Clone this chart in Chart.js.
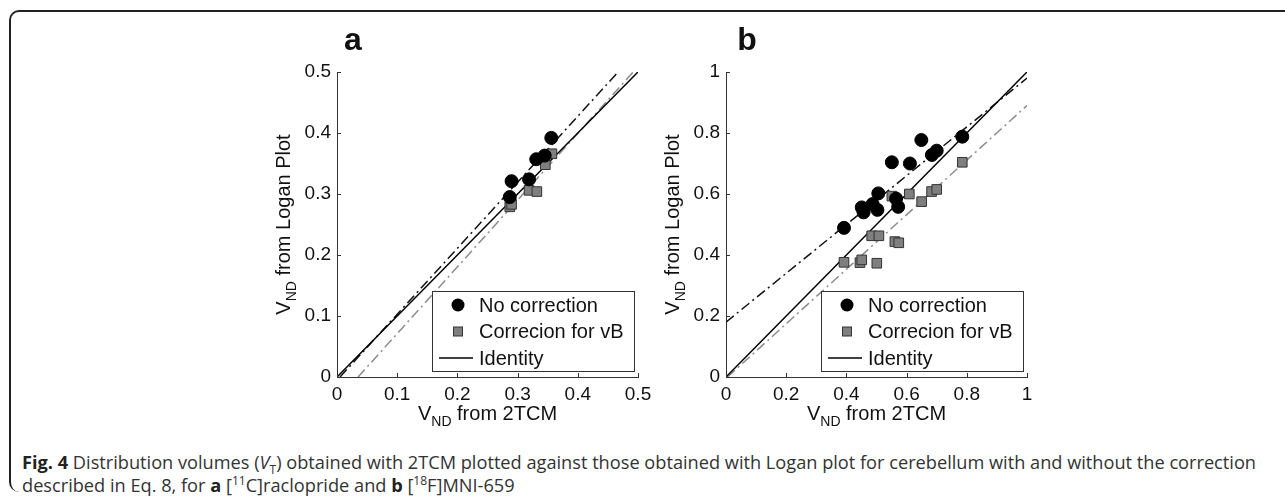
<!DOCTYPE html>
<html>
<head>
<meta charset="utf-8">
<script src="https://cdn.jsdelivr.net/npm/chart.js@4.4.1/dist/chart.umd.min.js"></script>
<style>
  html, body { margin: 0; padding: 0; background: #fff; }
  body { width: 1285px; height: 500px; position: relative; overflow: hidden; }
  #frame { position: absolute; left: 9px; top: 10px; width: 1300px; height: 480px;
           border-left: 2px solid #222; border-top: 2px solid #222; border-radius: 10px 0 0 10px; }
  .panel { position: absolute; top: 20px; }
  #panelA { left: 240px; }
  #panelB { left: 629px; }
  #caption { position: absolute; left: 22px; top: 451px; font-family: "Open Sans", sans-serif;
             font-size: 18.2px; line-height: 23px; color: #333; white-space: nowrap; }
  #caption b { color: #222; }
  #caption sub, #caption sup { font-size: 12px; line-height: 0; }
</style>
</head>
<body>
<div id="frame"></div>
<canvas id="panelA" class="panel" width="420" height="420"></canvas>
<canvas id="panelB" class="panel" width="420" height="420"></canvas>
<div id="caption"><b>Fig. 4</b> Distribution volumes (<i>V</i><sub>T</sub>) obtained with 2TCM plotted against those obtained with Logan plot for cerebellum with and without the correction<br>described in Eq. 8, for <b>a</b> [<sup>11</sup>C]raclopride and <b>b</b> [<sup>18</sup>F]MNI-659</div>

<script>
// panel a: [11C]raclopride
const aNoCorr = [[0.287, 0.295], [0.290, 0.321], [0.319, 0.324], [0.331, 0.357], [0.345, 0.363], [0.356, 0.392]];
const aVB = [[0.287, 0.279], [0.290, 0.283], [0.319, 0.306], [0.332, 0.304], [0.346, 0.348], [0.357, 0.366]];
const aIdentity = [[0, 0], [0.5, 0.5]];
const aFitNoCorr = [[0.005, 0], [0.467, 0.5]];
const aFitVB = [[0.035, 0], [0.492, 0.5]];
const aTicks = ['0', '0.1', '0.2', '0.3', '0.4', '0.5'];

// panel b: [18F]MNI-659
const bNoCorr = [[0.392, 0.489], [0.451, 0.556], [0.457, 0.540], [0.487, 0.567], [0.503, 0.548],
  [0.506, 0.602], [0.551, 0.704], [0.565, 0.585], [0.572, 0.558], [0.611, 0.700], [0.649, 0.777],
  [0.684, 0.728], [0.700, 0.742], [0.785, 0.788]];
const bVB = [[0.392, 0.376], [0.445, 0.375], [0.451, 0.384], [0.484, 0.463], [0.508, 0.463],
  [0.501, 0.373], [0.551, 0.593], [0.561, 0.444], [0.574, 0.440], [0.609, 0.600], [0.650, 0.575],
  [0.683, 0.608], [0.700, 0.615], [0.785, 0.704]];
const bIdentity = [[0, 0], [1, 1]];
const bFitNoCorr = [[0, 0.18], [1, 0.98]];
const bFitVB = [[0.005, 0], [1, 0.89]];
const bTicks = ['0', '0.2', '0.4', '0.6', '0.8', '1'];

const FONT = '"Liberation Sans", Arial, sans-serif';
const toXY = arr => arr.map(p => ({ x: p[0], y: p[1] }));

// draws text made of normal and subscript parts, centred on x
function subText(ctx, parts, x, y) {
  const big = '20px ' + FONT, small = '14px ' + FONT;
  let w = 0;
  parts.forEach(p => { ctx.font = p.sub ? small : big; w += ctx.measureText(p.t).width; });
  let cx = x - w / 2;
  ctx.textAlign = 'left';
  ctx.textBaseline = 'alphabetic';
  parts.forEach(p => {
    ctx.font = p.sub ? small : big;
    ctx.fillText(p.t, cx, p.sub ? y + 6 : y);
    cx += ctx.measureText(p.t).width;
  });
}

const decor = {
  id: 'decor',
  afterDatasetsDraw(chart, args, opts) {
    const ctx = chart.ctx;
    const area = chart.chartArea;
    const xs = chart.scales.x, ys = chart.scales.y;
    ctx.save();

    // MATLAB style inward ticks
    ctx.strokeStyle = '#333';
    ctx.lineWidth = 1;
    ctx.beginPath();
    xs.ticks.forEach(t => {
      const px = Math.round(xs.getPixelForValue(t.value)) + 0.5;
      ctx.moveTo(px, area.bottom); ctx.lineTo(px, area.bottom - 4);
    });
    ys.ticks.forEach(t => {
      const py = Math.round(ys.getPixelForValue(t.value)) + 0.5;
      ctx.moveTo(area.left, py); ctx.lineTo(area.left + 4, py);
    });
    ctx.stroke();

    // axis titles
    ctx.fillStyle = '#111';
    subText(ctx, [{ t: 'V' }, { t: 'ND', sub: true }, { t: ' from 2TCM' }],
      (area.left + area.right) / 2, area.bottom + 43);
    ctx.save();
    ctx.translate(area.left - 47, (area.top + area.bottom) / 2);
    ctx.rotate(-Math.PI / 2);
    subText(ctx, [{ t: 'V' }, { t: 'ND', sub: true }, { t: ' from Logan Plot' }], 0, 0);
    ctx.restore();

    // panel letter
    ctx.font = 'bold 32px ' + FONT;
    ctx.textAlign = 'center';
    ctx.textBaseline = 'alphabetic';
    ctx.fillText(opts.letter, area.left + opts.letterX, area.top - 22);

    // legend box
    const bw = 202, bh = 80;
    const bx = area.right - 4 - bw, by = area.bottom - 6 - bh;
    ctx.fillStyle = '#fff';
    ctx.fillRect(bx, by, bw, bh);
    ctx.strokeStyle = '#333';
    ctx.lineWidth = 1;
    ctx.strokeRect(Math.round(bx) + 0.5, Math.round(by) + 0.5, bw, bh);
    const items = chart.data.datasets.filter(d => d.inLegend);
    items.forEach((d, i) => {
      const ry = by + 14 + i * 26.5;
      const mx = bx + 26;
      if (d.type === 'line') {
        ctx.strokeStyle = d.borderColor;
        ctx.lineWidth = d.borderWidth;
        ctx.beginPath(); ctx.moveTo(bx + 7, ry); ctx.lineTo(bx + 41, ry); ctx.stroke();
      } else if (d.pointStyle === 'rect') {
        ctx.fillStyle = d.backgroundColor;
        ctx.strokeStyle = d.borderColor;
        ctx.lineWidth = 1;
        ctx.fillRect(mx - 4.5, ry - 4.5, 9, 9);
        ctx.strokeRect(mx - 4.5, ry - 4.5, 9, 9);
      } else {
        ctx.fillStyle = d.backgroundColor;
        ctx.beginPath(); ctx.arc(mx, ry, 6.5, 0, Math.PI * 2); ctx.fill();
      }
      ctx.fillStyle = '#111';
      ctx.font = '20px ' + FONT;
      ctx.textAlign = 'left';
      ctx.textBaseline = 'middle';
      ctx.fillText(d.label, bx + 47, ry + 1);
    });
    ctx.restore();
  }
};

function axis(max, step, labels, fit) {
  return {
    type: 'linear', min: 0, max: max,
    grid: { display: false, drawTicks: false },
    border: { display: true, color: '#333', width: 1 },
    ticks: {
      stepSize: step, padding: 6, color: '#111',
      font: { family: FONT, size: 19 },
      callback: (v, i) => labels[i]
    },
    afterFit: fit
  };
}

function makeChart(id, cfg) {
  return new Chart(document.getElementById(id), {
    type: 'scatter',
    data: {
      datasets: [
        { label: 'No correction', data: toXY(cfg.noCorr), pointStyle: 'circle', pointRadius: 6.5,
          backgroundColor: '#000', borderColor: '#000', borderWidth: 1, inLegend: true },
        { label: 'Correcion for vB', data: toXY(cfg.vb), pointStyle: 'rect', pointRadius: 6.8,
          backgroundColor: '#7f7f7f', borderColor: '#333', borderWidth: 1, inLegend: true },
        { label: 'Identity', type: 'line', data: toXY(cfg.identity), borderColor: '#000',
          borderWidth: 1.5, pointRadius: 0, inLegend: true },
        { label: 'Fit, no correction', type: 'line', data: toXY(cfg.fitNoCorr), borderColor: '#111',
          borderWidth: 1.5, borderDash: [10, 4, 2, 4], pointRadius: 0 },
        { label: 'Fit, correction for vB', type: 'line', data: toXY(cfg.fitVB), borderColor: '#8c8c8c',
          borderWidth: 1.5, borderDash: [10, 4, 2, 4], pointRadius: 0 }
      ]
    },
    options: {
      responsive: false,
      animation: false,
      devicePixelRatio: 1,
      layout: { padding: { top: 52, right: 22, left: 0, bottom: 0 } },
      scales: {
        x: axis(cfg.max, cfg.step, cfg.ticks, s => { s.height = 63; }),
        y: axis(cfg.max, cfg.step, cfg.ticks, s => { s.width = 97; })
      },
      plugins: {
        legend: { display: false },
        tooltip: { enabled: false },
        decor: { letter: cfg.letter, letterX: cfg.letterX }
      }
    },
    plugins: [decor]
  });
}

makeChart('panelA', { noCorr: aNoCorr, vb: aVB, identity: aIdentity, fitNoCorr: aFitNoCorr, fitVB: aFitVB,
  ticks: aTicks, max: 0.5, step: 0.1, letter: 'a', letterX: 16 });
makeChart('panelB', { noCorr: bNoCorr, vb: bVB, identity: bIdentity, fitNoCorr: bFitNoCorr, fitVB: bFitVB,
  ticks: bTicks, max: 1, step: 0.2, letter: 'b', letterX: 21 });
</script>
</body>
</html>
